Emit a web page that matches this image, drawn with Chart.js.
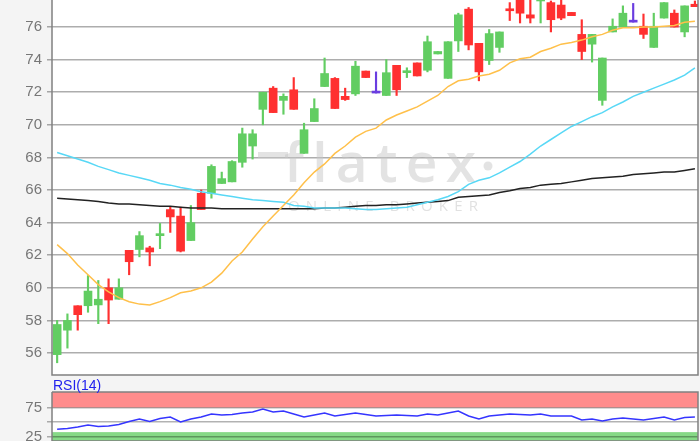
<!DOCTYPE html>
<html>
<head>
<meta charset="utf-8">
<script src="https://cdn.jsdelivr.net/npm/chart.js@4.4.1/dist/chart.umd.min.js"></script>
<style>
  html, body { margin: 0; padding: 0; background: #f4f4f4; }
  #wrap { position: relative; width: 700px; height: 441px; overflow: hidden; }
  #main { position: absolute; left: 0; top: 0; }
  #rsi { position: absolute; left: 0; top: 375px; }
</style>
</head>
<body>
<div id="wrap">
  <canvas id="main" width="700" height="376"></canvas>
  <canvas id="rsi" width="700" height="66"></canvas>
</div>
<script>
// daily candles, oldest first
const opens  = [55.9, 57.4, 58.9, 58.9, 58.95, 60.0, 59.3, 62.3, 62.35, 62.45, 63.2, 64.8, 64.4, 62.9, 65.8, 65.8, 66.4, 66.5, 67.7, 68.7,
                70.95, 72.25, 71.5, 72.15, 68.25, 70.2, 72.35, 72.85, 71.75, 71.9, 73.3, 71.95, 71.8, 73.65, 73.2, 73.8, 73.35, 74.35, 72.85, 75.15,
                77.1, 75.0, 73.95, 74.75, 77.1, 77.8, 76.75, 77.6, 77.5, 77.35, 76.9, 75.55, 74.95, 71.5, 75.7, 76.0, 76.3, 76.05, 74.75, 76.55,
                76.85, 75.7, 77.4];
const highs  = [58.0, 58.4, 58.9, 60.75, 60.45, 60.55, 60.55, 62.3, 63.45, 62.55, 63.95, 65.0, 64.95, 65.05, 66.0, 67.55, 67.1, 67.8, 69.8, 69.7,
                72.0, 72.35, 71.9, 72.9, 70.1, 71.6, 74.1, 72.9, 72.25, 73.9, 73.3, 73.25, 74.0, 73.65, 73.5, 73.8, 75.45, 74.5, 75.1, 76.85,
                77.2, 75.0, 75.85, 75.7, 77.5, 78.0, 77.8, 78.2, 77.6, 77.7, 76.9, 76.45, 75.55, 74.1, 76.5, 77.3, 77.45, 76.8, 76.85, 77.5,
                77.05, 77.3, 77.6];
const lows   = [55.4, 56.3, 57.4, 58.5, 57.8, 57.8, 59.3, 60.8, 61.9, 61.35, 62.4, 63.4, 62.2, 62.9, 64.8, 65.5, 66.4, 66.5, 67.4, 67.9,
                70.0, 70.75, 70.65, 70.95, 68.25, 70.2, 72.35, 71.0, 71.5, 71.8, 72.9, 71.95, 71.8, 71.8, 72.9, 73.0, 73.25, 74.35, 72.85, 74.5,
                74.6, 72.7, 73.7, 74.45, 76.4, 76.25, 76.25, 76.25, 75.7, 76.45, 76.7, 74.0, 73.85, 71.2, 75.7, 76.0, 76.3, 75.3, 74.75, 76.55,
                76.0, 75.4, 77.25];
const closes = [57.75, 58.0, 58.35, 59.8, 59.3, 59.25, 60.0, 61.6, 63.2, 62.2, 63.3, 64.35, 62.25, 64.0, 64.8, 67.45, 66.7, 67.75, 69.45, 69.45,
                72.0, 70.75, 71.75, 70.95, 69.7, 71.0, 73.15, 71.0, 71.55, 73.6, 72.9, 71.95, 73.2, 72.15, 73.3, 73.0, 75.1, 74.5, 75.1, 76.75,
                74.9, 73.25, 75.6, 75.7, 77.0, 76.85, 76.55, 78.0, 76.45, 76.55, 76.7, 74.5, 75.55, 74.1, 76.05, 76.85, 76.3, 75.55, 76.05, 77.5,
                76.0, 77.3, 77.25];

// moving averages
const ma20  = [62.65, 62.1, 61.4, 60.8, 60.2, 59.75, 59.4, 59.15, 59.0, 58.95, 59.15, 59.4, 59.7, 59.8, 60.0, 60.35, 60.9, 61.65, 62.2, 63.0,
               63.75, 64.4, 65.05, 65.7, 66.45, 67.1, 67.6, 68.25, 68.7, 69.25, 69.6, 69.8, 70.3, 70.6, 70.85, 71.1, 71.45, 71.8, 72.35, 72.7,
               72.8, 73.0, 73.1, 73.35, 73.8, 74.05, 74.15, 74.5, 74.7, 74.95, 75.05, 75.2, 75.4, 75.55, 75.8, 75.95, 75.95, 76.0, 76.0, 76.05,
               76.1, 76.3, 76.35];
const ma50  = [68.3, 68.1, 67.9, 67.7, 67.45, 67.25, 67.05, 66.9, 66.75, 66.6, 66.4, 66.3, 66.15, 66.05, 65.9, 65.8, 65.7, 65.6, 65.5, 65.4,
               65.35, 65.3, 65.25, 65.05, 65.0, 64.9, 64.9, 64.9, 64.9, 64.85, 64.8, 64.8, 64.85, 64.9, 64.95, 65.1, 65.25, 65.4, 65.6, 65.9,
               66.35, 66.6, 66.75, 67.05, 67.4, 67.75, 68.2, 68.7, 69.1, 69.5, 69.9, 70.2, 70.5, 70.75, 71.1, 71.4, 71.75, 72.0, 72.25, 72.5,
               72.75, 73.05, 73.5];
const ma200 = [65.5, 65.45, 65.4, 65.35, 65.3, 65.2, 65.15, 65.15, 65.1, 65.05, 65.0, 65.0, 64.95, 64.9, 64.9, 64.9, 64.85, 64.85, 64.85, 64.85,
               64.85, 64.85, 64.85, 64.85, 64.85, 64.85, 64.9, 64.9, 64.95, 65.0, 65.05, 65.05, 65.1, 65.1, 65.15, 65.2, 65.25, 65.3, 65.35, 65.55,
               65.6, 65.65, 65.7, 65.85, 65.95, 66.1, 66.15, 66.3, 66.35, 66.4, 66.5, 66.6, 66.7, 66.75, 66.8, 66.85, 66.95, 67.0, 67.05, 67.1,
               67.1, 67.2, 67.3];

const rsi14 = [37.4, 38.8, 41.4, 44.8, 42.2, 43.1, 45.7, 50.9, 55.2, 50.9, 56.0, 58.6, 50.0, 55.2, 58.6, 63.8, 62.1, 62.9, 65.5, 67.2,
               72.4, 67.2, 69.0, 63.8, 58.6, 62.1, 65.5, 60.3, 62.9, 65.5, 62.9, 60.3, 61.2, 62.1, 61.2, 60.3, 63.8, 62.1, 65.5, 69.0,
               60.3, 55.2, 60.3, 62.1, 63.8, 62.9, 62.1, 63.8, 60.3, 60.3, 60.3, 53.4, 55.2, 51.7, 55.2, 56.9, 55.2, 53.4, 56.0, 58.6,
               53.4, 57.8, 58.6];

const yTicks = [56, 58, 60, 62, 64, 66, 68, 70, 72, 74, 76, 78];
const rsiTicks = [25, 50, 75];

const GREEN = '#62cd62', RED = '#ff3030', DOJI = '#6a3de0';
const candleColor = opens.map((o, i) => closes[i] > o ? GREEN : closes[i] < o ? RED : DOJI);
const pts = arr => arr.map((v, i) => ({ x: i, y: v }));

const xScale = { type: 'linear', min: -0.5, max: 62.3, offset: false, display: false };
const labelFont = { family: 'Liberation Sans', size: 15 };

// white plot area + frame
const frame = {
  id: 'frame',
  beforeDraw(chart) {
    const { ctx, chartArea: a } = chart;
    ctx.save();
    ctx.fillStyle = '#fff';
    ctx.fillRect(a.left, a.top, a.right - a.left, a.bottom - a.top);
    ctx.restore();
  },
  afterDraw(chart) {
    const { ctx, chartArea: a } = chart;
    ctx.save();
    ctx.strokeStyle = '#808080';
    ctx.lineWidth = 1.5;
    ctx.beginPath();
    ctx.moveTo(a.left, a.top);
    ctx.lineTo(a.left, a.bottom);
    ctx.lineTo(a.right, a.bottom);
    ctx.lineTo(a.right, a.top);
    if (chart.canvas.id === 'rsi') ctx.lineTo(a.left, a.top);
    ctx.stroke();
    ctx.restore();
  }
};

const watermark = {
  id: 'watermark',
  beforeDatasetsDraw(chart) {
    const ctx = chart.ctx;
    ctx.save();
    ctx.fillStyle = 'rgba(200,200,200,0.5)';
    ctx.font = '600 55px "Open Sans"';
    const word = [...'flatex'];
    const w = word.map(c => ctx.measureText(c).width);
    const gap = (476 - 284 - w.reduce((a, b) => a + b, 0)) / (word.length - 1);
    let x = 284;
    word.forEach((c, i) => { ctx.fillText(c, x, 182); x += w[i] + gap; });
    ctx.fillRect(258, 152, 30, 6);
    ctx.beginPath();
    ctx.arc(488, 166, 4.5, 0, Math.PI * 2);
    ctx.fill();
    ctx.fillStyle = 'rgba(200,200,200,0.55)';
    ctx.font = '15px "Open Sans"';
    const sub = [...'ONLINE BROKER'];
    const sw = sub.map(c => ctx.measureText(c).width);
    const sgap = (478 - 288 - sw.reduce((a, b) => a + b, 0)) / (sub.length - 1);
    x = 288;
    sub.forEach((c, i) => { ctx.fillText(c, x, 211); x += sw[i] + sgap; });
    ctx.restore();
  }
};

new Chart(document.getElementById('main'), {
  data: {
    datasets: [
      { type: 'line', data: pts(ma20), borderColor: '#ffc04a', borderWidth: 1.5, pointRadius: 0, order: 0 },
      { type: 'line', data: pts(ma50), borderColor: '#58d8f6', borderWidth: 1.5, pointRadius: 0, order: 1 },
      { type: 'line', data: pts(ma200), borderColor: '#222', borderWidth: 1.5, pointRadius: 0, order: 1 },
      { type: 'bar', data: opens.map((o, i) => ({ x: i, y: [o, closes[i]] })), backgroundColor: candleColor,
        barThickness: 8, minBarLength: 2, grouped: false, order: 2 },
      { type: 'bar', data: lows.map((l, i) => ({ x: i, y: [l, highs[i]] })), backgroundColor: candleColor,
        barThickness: 1.5, grouped: false, order: 3 }
    ]
  },
  options: {
    responsive: false,
    animation: false,
    events: [],
    layout: { padding: { left: 0, right: 2, top: 0, bottom: 1 } },
    plugins: { legend: { display: false }, tooltip: { enabled: false } },
    scales: {
      x: xScale,
      y: {
        min: 54.65,
        max: 77.66,
        afterBuildTicks: s => { s.ticks = yTicks.filter(v => v <= 76).map(v => ({ value: v })); },
        afterFit: s => { s.width = 52; s.paddingTop = 0; s.paddingBottom = 0; },
        border: { display: false },
        grid: { color: 'rgba(0,0,0,0.32)', lineWidth: 1.5, tickLength: 5 },
        ticks: { color: '#777', font: labelFont, padding: 5 }
      }
    }
  },
  plugins: [frame, watermark]
});

const rsiBands = {
  id: 'rsiBands',
  beforeDraw(chart) {
    const { ctx, chartArea: a, scales: { y } } = chart;
    ctx.save();
    ctx.fillStyle = '#ff8c8c';
    ctx.fillRect(a.left, a.top, a.right - a.left, y.getPixelForValue(75) - a.top);
    ctx.fillStyle = '#86d986';
    const g = y.getPixelForValue(32.5);
    ctx.fillRect(a.left, g, a.right - a.left, a.bottom - g);
    ctx.restore();
  },
  afterDraw(chart) {
    const ctx = chart.ctx;
    ctx.save();
    ctx.fillStyle = '#2222ee';
    ctx.font = '14px "Liberation Sans"';
    ctx.fillText('RSI(14)', 53, 14.5);
    ctx.restore();
  }
};

new Chart(document.getElementById('rsi'), {
  data: {
    datasets: [
      { type: 'line', data: pts(rsi14), borderColor: '#3535ff', borderWidth: 1.5, pointRadius: 0 }
    ]
  },
  options: {
    responsive: false,
    animation: false,
    events: [],
    layout: { padding: { left: 0, right: 2, top: 17, bottom: 0 } },
    plugins: { legend: { display: false }, tooltip: { enabled: false } },
    scales: {
      x: xScale,
      y: {
        min: 17.2,
        max: 101.7,
        afterBuildTicks: s => { s.ticks = rsiTicks.map(v => ({ value: v })); },
        afterFit: s => { s.width = 52; s.paddingTop = 0; s.paddingBottom = 0; },
        border: { display: false },
        grid: { color: 'rgba(0,0,0,0.3)', lineWidth: 1.5, tickLength: 5 },
        ticks: { color: '#777', font: labelFont, padding: 5, callback: v => (v === 50 ? '' : v) }
      }
    }
  },
  plugins: [frame, rsiBands]
});
</script>
</body>
</html>
